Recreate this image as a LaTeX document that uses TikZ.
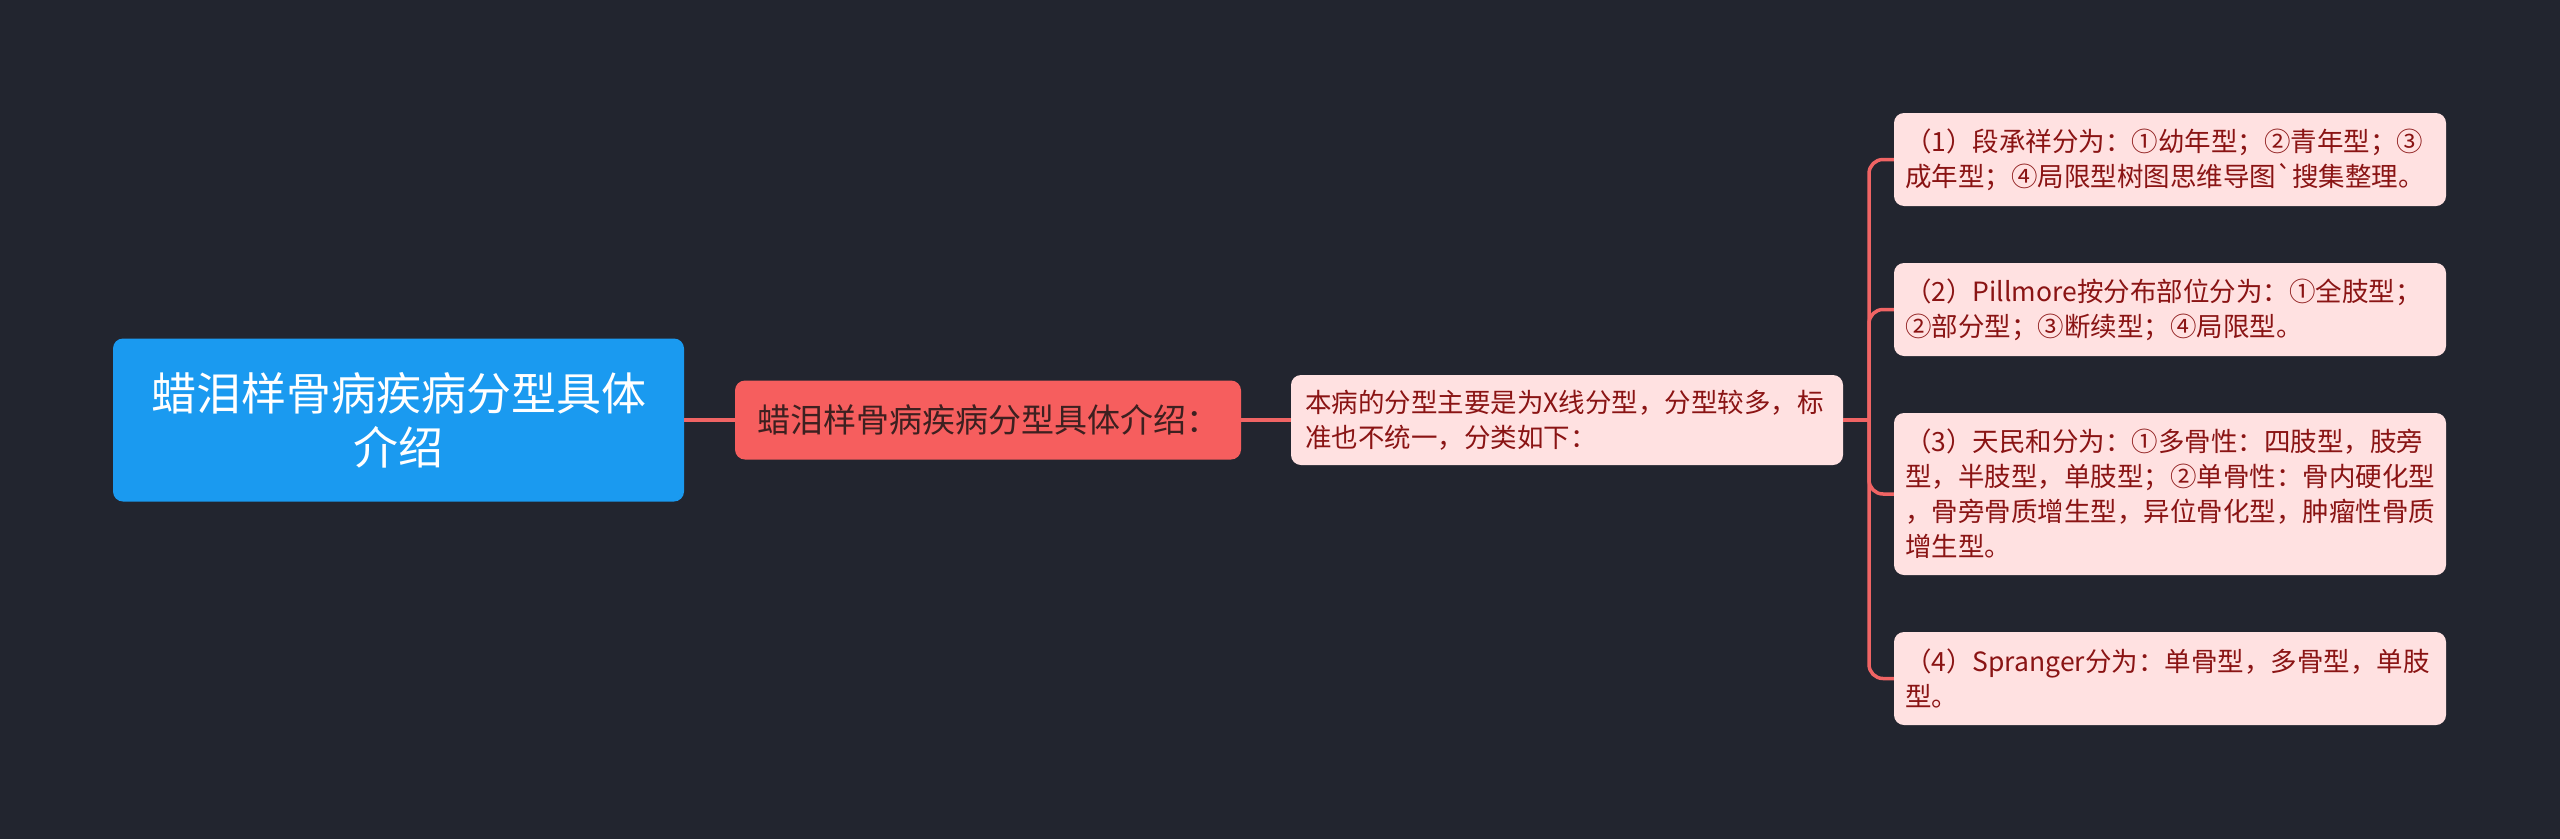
\documentclass[tikz,border=0pt]{standalone}
\usepackage{fontspec}
\newfontfamily\cjk{Noto Sans CJK SC}[Ligatures=TeXOff]
\usepackage{tikz}
\usetikzlibrary{positioning}

\definecolor{bgdark}{HTML}{22252F}
\definecolor{rootblue}{HTML}{1A9AF0}
\definecolor{subred}{HTML}{F65E5E}
\definecolor{subtext}{HTML}{3D2020}
\definecolor{leafpink}{HTML}{FFE1E1}
\definecolor{leaftext}{HTML}{8A1414}
\definecolor{linkred}{HTML}{F06464}

\tikzset{
  rootbox/.style={fill=rootblue,rounded corners=10pt,text=white,align=center,
    minimum width=571pt,minimum height=163pt,inner sep=0pt,
    font=\cjk\fontsize{45}{54}\selectfont},
  subbox/.style={fill=subred,rounded corners=10pt,text=subtext,align=left,
    minimum width=506pt,minimum height=79pt,inner xsep=18pt,inner ysep=0pt,
    font=\cjk\fontsize{33}{40}\selectfont},
  leafbox/.style={fill=leafpink,rounded corners=10pt,text=leaftext,align=left,
    text width=530pt,inner xsep=11pt,inner ysep=0pt,
    font=\cjk\fontsize{26.5}{35}\selectfont},
  link/.style={draw=linkred,line width=3.5pt}
}

\begin{document}
\begin{tikzpicture}[x=1pt,y=-1pt]
	  \fill[bgdark] (0,0) rectangle (2560,839);
	  \node (R) [rootbox] at (398.5,420) {蜡泪样骨病疾病分型具体\\介绍};
	  \node (S) [subbox] at (988,420) {蜡泪样骨病疾病分型具体介绍：};
	  \node (T) [leafbox,text width=524pt,inner xsep=14pt,minimum height=90pt] at (1567,420)
	    {本病的分型主要是为X线分型，分型较多，标\\准也不统一，分类如下：};
	  \node (L1) [leafbox,minimum height=93pt] at (2170,159.5)
	    {（1）段承祥分为：①幼年型；②青年型；③\\成年型；④局限型树图思维导图`搜集整理。};
	  \node (L2) [leafbox,minimum height=93pt] at (2170,309.5)
	    {（2）Pillmore按分布部位分为：①全肢型；\\②部分型；③断续型；④局限型。};
	  \node (L3) [leafbox,minimum height=162pt] at (2170,494)
	    {（3）天民和分为：①多骨性：四肢型，肢旁\\型，半肢型，单肢型；②单骨性：骨内硬化型\\，骨旁骨质增生型，异位骨化型，肿瘤性骨质\\增生型。};
	  \node (L4) [leafbox,minimum height=93pt] at (2170,678.5)
	    {（4）Spranger分为：单骨型，多骨型，单肢\\型。};
	  \coordinate (F) at (1869,420);
	  \draw[link] (R.east) -- (S.west);
	  \draw[link] (S.east) -- (T.west);
	  \draw[link] (T.east) -- (F);
	  \draw[link,rounded corners=14pt] (L1.west) -| (F) |- (L4.west);
	  \draw[link,rounded corners=14pt] (F) |- (L2.west);
	  \draw[link,rounded corners=14pt] (F) |- (L3.west);
	\end{tikzpicture}
\end{document}
